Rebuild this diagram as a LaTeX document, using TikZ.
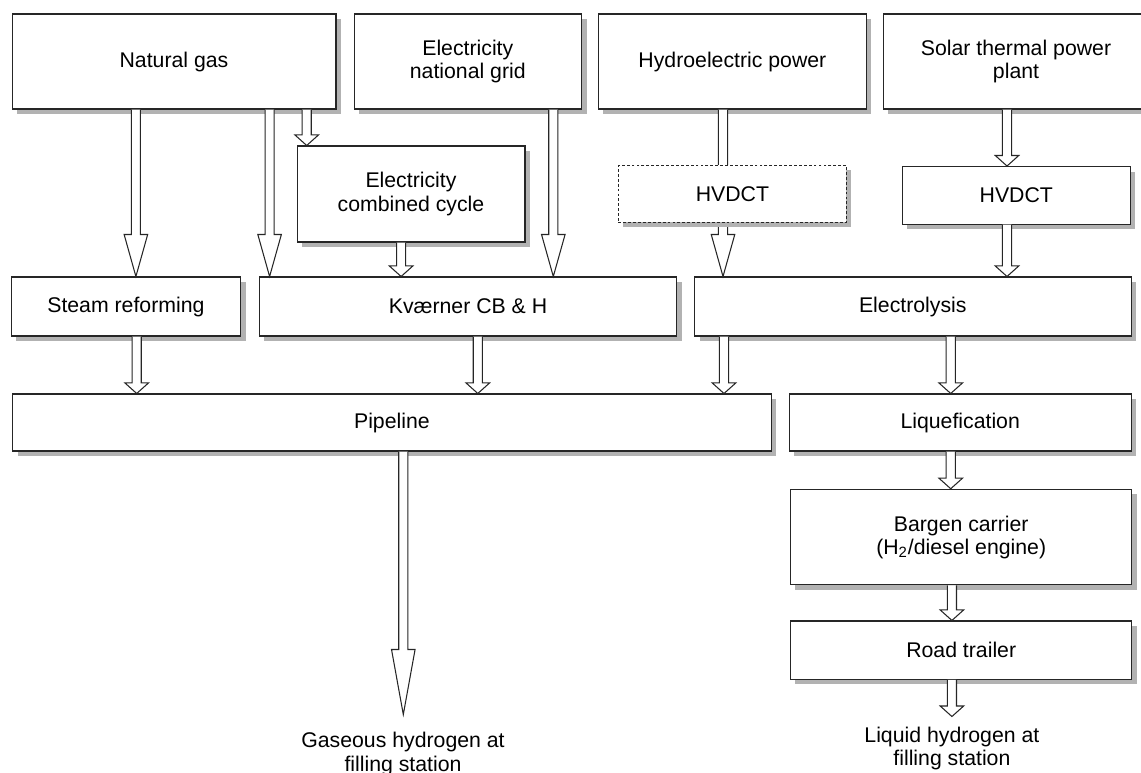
\documentclass[tikz,border=0pt]{standalone}
\usepackage{fontspec}
\setmainfont{Liberation Sans}
\usetikzlibrary{calc,shadows}

% hollow block arrow: [head length]{from}{to}{x position}
\newcommand\fatarrow[4][6pt]{%
  \draw[flow] let \p1=(#2), \p2=(#3), \p3=(#4,0) in
    (\x3-2.6pt,\y1) -- (\x3-2.6pt,\y2+#1) -- (\x3-6.7pt,\y2+#1) -- (\x3,\y2)
    -- (\x3+6.7pt,\y2+#1) -- (\x3+2.6pt,\y2+#1) -- (\x3+2.6pt,\y1);}

\begin{document}
\begin{tikzpicture}[x=0.02cm, y=-0.02cm,
    box/.style={draw=black!85, line width=0.6pt, fill=white, align=center,
      font=\fontsize{12.1}{13.1}\selectfont,
      drop shadow={shadow xshift=0.1cm, shadow yshift=-0.1cm, fill=black!30, opacity=1}},
    flow/.style={draw=black!85, line width=0.6pt, fill=white, line join=miter},
    endtext/.style={align=center, inner sep=0pt, anchor=north,
      font=\fontsize{12.1}{13.1}\selectfont}]
  \useasboundingbox (0,0) rectangle (1141,772);

  \node[box, minimum width=6.48cm, minimum height=1.9cm] (natgas) at (174,61.5) {Natural gas};
  \node[box, minimum width=4.55cm, minimum height=1.9cm] (grid) at (467.8,61.5) {Electricity\\national grid};
  \node[box, minimum width=5.36cm, minimum height=1.9cm] (hydro) at (732.4,61.5) {Hydroelectric power};
  \node[box, minimum width=5.32cm, minimum height=1.9cm] (solar) at (1016,61.5) {Solar thermal power\\plant};

  \node[box, minimum width=4.56cm, minimum height=1.92cm] (ccycle) at (411,194) {Electricity\\combined cycle};
  \node[box, minimum width=4.56cm, minimum height=1.15cm] (hvdcsolar) at (1016.3,195.3) {HVDCT};

  \node[box, minimum width=4.59cm, minimum height=1.18cm] (steam) at (125.9,306.5) {Steam reforming};
  \node[box, minimum width=8.35cm, minimum height=1.18cm] (kvaerner) at (468,306.5) {Kværner CB \& H};
  \node[box, minimum width=8.73cm, minimum height=1.18cm] (electro) at (912.8,306.5) {Electrolysis};

  \node[box, minimum width=15.17cm, minimum height=1.14cm] (pipeline) at (391.9,422.5) {Pipeline};
  \node[box, minimum width=6.84cm, minimum height=1.14cm] (liquef) at (960.2,422.5) {Liquefication};
  \node[box, minimum width=6.83cm, minimum height=1.91cm] (bargen) at (961.2,537) {Bargen carrier\\(H\textsubscript{2}/diesel engine)};
  \node[box, minimum width=6.83cm, minimum height=1.17cm] (road) at (961.2,650.2) {Road trailer};

  \node[endtext] (gastext) at (403,731.5) {Gaseous hydrogen at\\[0.03cm]filling station};
  \node[endtext] (liqtext) at (951.9,726.5) {Liquid hydrogen at\\filling station};
  \coordinate (gasend) at (403.3,714.5);
  \coordinate (liqend) at (951.9,716.5);

  \fatarrow[23.9pt]{natgas.south}{steam.north}{135.9}
  \fatarrow[23.9pt]{natgas.south}{kvaerner.north}{269.6}
  \fatarrow{natgas.south}{ccycle.north}{306.7}
  \fatarrow[23.9pt]{grid.south}{kvaerner.north}{553.3}
  \fatarrow{ccycle.south}{kvaerner.north}{401.1}
  \fatarrow[23.9pt]{hydro.south}{electro.north}{723}
  \fatarrow{solar.south}{hvdcsolar.north}{1007}
  \fatarrow{hvdcsolar.south}{electro.north}{1007}

  \fatarrow{steam.south}{pipeline.north}{136.7}
  \fatarrow{kvaerner.south}{pipeline.north}{477.8}
  \fatarrow{electro.south}{pipeline.north}{724}
  \fatarrow{electro.south}{liquef.north}{950.7}
  \fatarrow{liquef.south}{bargen.north}{950.7}
  \fatarrow{bargen.south}{road.north}{951.9}
  \fatarrow{road.south}{liqend}{951.9}
  \fatarrow[37pt]{pipeline.south}{gasend}{403.3}

  % drawn last so it hides the hydro arrow
  \node[box, drop shadow={opacity=0}, dash pattern=on 1.6pt off 1.2pt,
    minimum width=4.56cm, minimum height=1.14cm] (hvdchydro) at (732.4,193.8) {HVDCT};
\end{tikzpicture}
\end{document}
